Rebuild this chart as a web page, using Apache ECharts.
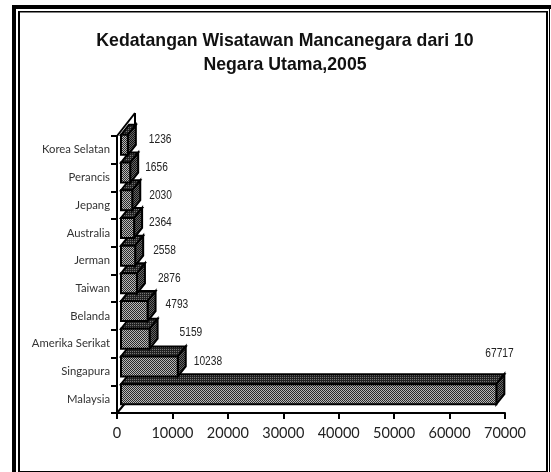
<!DOCTYPE html>
<html><head><meta charset="utf-8">
<style>html,body{margin:0;padding:0;background:#fff}#c{width:551px;height:472px}</style>
<script src="https://cdn.jsdelivr.net/npm/echarts@6/dist/echarts.min.js"></script>
</head><body><div id="c"></div>
<script>
const categories = ['Malaysia','Singapura','Amerika Serikat','Belanda','Taiwan','Jerman','Australia','Jepang','Perancis','Korea Selatan'];
const values = [67717,10238,5159,4793,2876,2558,2364,2030,1656,1236];
const titleLines = 'Kedatangan Wisatawan Mancanegara dari 10\nNegara Utama,2005';
const xTicks = {min:0,max:70000,interval:10000};
// hand placement of the value labels, relative to the bar end
const labelNudgeX = [-11,16,30,18,21,18,15,17,15,21];
const labelNudgeY = [-45,-10,-11,-11,-10,-10,-10,-10,-10,-10];

function pattern(size, bg, fg, cells){
  const c=document.createElement('canvas');c.width=c.height=size;
  const g=c.getContext('2d');g.fillStyle=bg;g.fillRect(0,0,size,size);g.fillStyle=fg;
  cells.forEach(p=>g.fillRect(p[0],p[1],1,1));return c;
}
const frontFill={image:pattern(2,'#b8b8b8','#2a2a2a',[[0,0],[1,1]]),repeat:'repeat'};
const topFill={image:pattern(2,'#777','#222',[[0,0],[1,1],[1,0]]),repeat:'repeat'};
const sideFill={image:pattern(2,'#666','#111',[[0,0],[1,1]]),repeat:'repeat'};
const D={ox:4,oy:-5,h:20,dx:8,dy:-10};
const line={stroke:'#000',lineWidth:2,lineJoin:'miter'};

const chart=echarts.init(document.getElementById('c'),null,{renderer:'canvas'});
chart.setOption({
  animation:false,
  backgroundColor:'#fff',
  title:{text:titleLines,left:280,textAlign:'center',top:24,
    textStyle:{fontFamily:'Liberation Sans',fontWeight:'bold',fontSize:17.7,lineHeight:24,color:'#111'}},
  grid:{left:117,right:46,top:136,bottom:59},
  xAxis:{type:'value',min:xTicks.min,max:xTicks.max,interval:xTicks.interval,
    splitLine:{show:false},
    axisLine:{show:true,lineStyle:{color:'#000',width:2}},
    axisTick:{show:true,length:6,lineStyle:{color:'#000',width:2}},
    axisLabel:{fontFamily:'Lato',fontSize:14.5,color:'#222',margin:13,hideOverlap:false,formatter:v=>String(v)}},
  yAxis:{type:'category',data:categories,
    axisLine:{show:true,lineStyle:{color:'#000',width:2}},
    axisTick:{show:true,length:6,lineStyle:{color:'#000',width:2}},
    axisLabel:{fontFamily:'Lato',fontSize:11.3,color:'#333',margin:7,interval:0}},
  series:[{
    type:'custom',coordinateSystem:'cartesian2d',clip:false,
    data:values.map((v,i)=>[v,i]),
    encode:{x:0,y:1},
    renderItem(params,api){
      const i=api.value(1);
      const end=api.coord([api.value(0),i]);
      const zero=api.coord([0,i]);
      const x0=zero[0]+D.ox,x1=end[0]+D.ox;
      const y0=end[1]+D.oy-D.h/2,y1=y0+D.h;
      const poly=(pts,fill)=>({type:'polygon',shape:{points:pts},style:Object.assign({fill},line)});
      return {type:'group',children:[
        poly([[x0,y0],[x0+D.dx,y0+D.dy],[x1+D.dx,y0+D.dy],[x1,y0]],topFill),
        poly([[x1,y0],[x1+D.dx,y0+D.dy],[x1+D.dx,y1+D.dy],[x1,y1]],sideFill),
        poly([[x0,y0],[x1,y0],[x1,y1],[x0,y1]],frontFill),
        {type:'text',x:x1+labelNudgeX[params.dataIndex],y:end[1]+labelNudgeY[params.dataIndex],scaleX:0.85,
          style:{text:String(api.value(0)),fontFamily:'Liberation Sans',fontSize:12,fill:'#222',textAlign:'left',textVerticalAlign:'middle'}}
      ]};
    }
  },{
    // 3-D wall edges of the axis box
    type:'custom',coordinateSystem:'cartesian2d',clip:false,silent:true,z:1,
    data:[[0,0]],encode:{x:0,y:1},
    renderItem(params,api){
      const top=api.coord([0,9]);const size=api.size([0,1]);
      const tx=top[0],ty=top[1]-size[1]/2;
      const bottom=api.coord([0,0]);const by=bottom[1]+size[1]/2;
      const seg=(a,b)=>({type:'line',shape:{x1:a[0],y1:a[1],x2:b[0],y2:b[1]},style:line});
      return {type:'group',children:[
        seg([tx,ty],[tx+18,ty-23]),
        seg([tx+18,ty-23],[tx+18,ty-10]),
        seg([tx,by],[tx+10,by-12])
      ]};
    }
  }],
  graphic:[
    {type:'rect',shape:{x:12,y:5,width:539,height:4},style:{fill:'#000'}},
    {type:'rect',shape:{x:12,y:5,width:4,height:467},style:{fill:'#000'}},
    {type:'rect',shape:{x:549,y:9,width:1,height:463},style:{fill:'#000'}},
    {type:'rect',shape:{x:18,y:11,width:2,height:461},style:{fill:'#000'}},
    {type:'rect',shape:{x:18,y:11,width:530,height:1.5},style:{fill:'#000'}},
    {type:'rect',shape:{x:546,y:11,width:2,height:461},style:{fill:'#000'}},
    {type:'rect',shape:{x:18,y:471,width:530,height:1},style:{fill:'#000'}}
  ]
});
</script></body></html>
